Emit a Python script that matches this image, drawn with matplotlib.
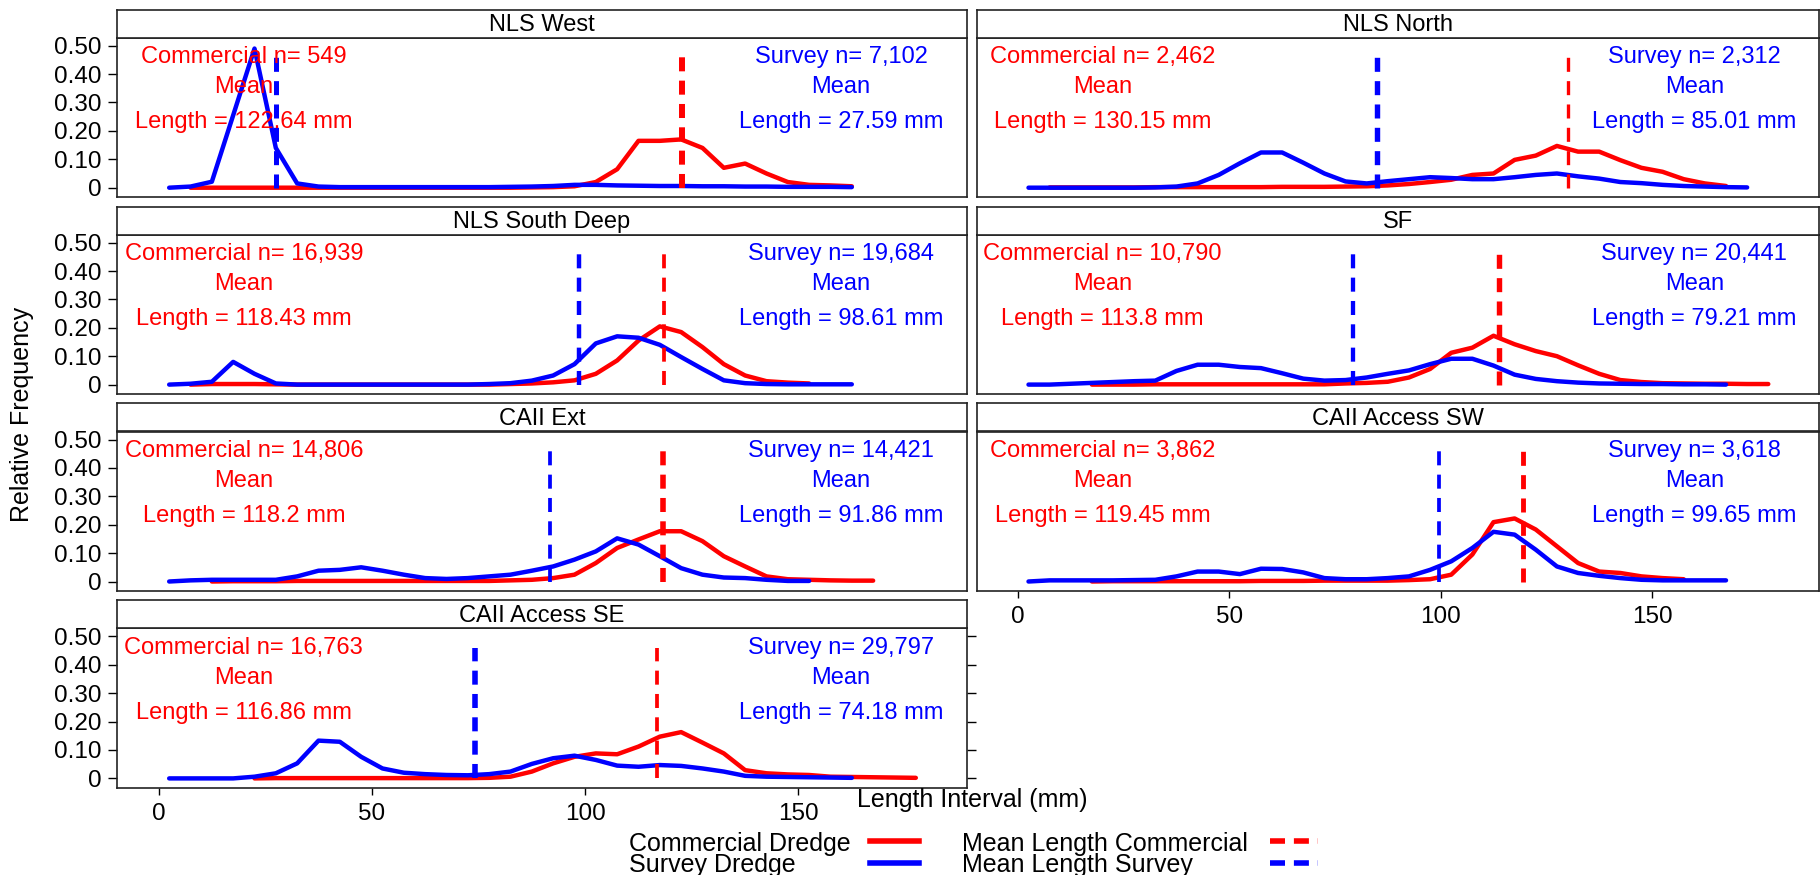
import numpy as np
import matplotlib
matplotlib.use("Agg")
import matplotlib.pyplot as plt
from matplotlib.lines import Line2D

N = None

# ---------------- data ----------------
length_bins = [2.5, 7.5, 12.5, 17.5, 22.5, 27.5, 32.5, 37.5, 42.5, 47.5,
               52.5, 57.5, 62.5, 67.5, 72.5, 77.5, 82.5, 87.5, 92.5, 97.5,
               102.5, 107.5, 112.5, 117.5, 122.5, 127.5, 132.5, 137.5, 142.5, 147.5,
               152.5, 157.5, 162.5, 167.5, 172.5, 177.5]

areas = ["NLS West", "NLS North", "NLS South Deep", "SF",
         "CAII Ext", "CAII Access SW", "CAII Access SE"]
commercial_n = ["549", "2,462", "16,939", "10,790", "14,806", "3,862", "16,763"]
survey_n = ["7,102", "2,312", "19,684", "20,441", "14,421", "3,618", "29,797"]
commercial_mean = [122.64, 130.15, 118.43, 113.8, 118.2, 119.45, 116.86]
survey_mean = [27.59, 85.01, 98.61, 79.21, 91.86, 99.65, 74.18]

nls_west_comm = [N, 0, 0, 0, 0, 0, 0, 0, 0, 0,
                 0, 0, 0, 0, 0, 0, 0, 0.001, 0.002, 0.005,
                 0.02, 0.065, 0.165, 0.165, 0.17, 0.14, 0.07, 0.085, 0.05, 0.02,
                 0.01, 0.008, 0.005, N, N, N]
nls_west_surv = [0, 0.004, 0.021, 0.255, 0.49, 0.14, 0.015, 0.004, 0.002, 0.002,
                 0.002, 0.002, 0.002, 0.002, 0.002, 0.002, 0.003, 0.004, 0.006, 0.01,
                 0.01, 0.008, 0.007, 0.006, 0.006, 0.005, 0.005, 0.004, 0.004, 0.003,
                 0.003, 0.003, 0.002, N, N, N]

nls_north_comm = [N, 0.001, 0.001, 0.001, 0.001, 0.001, 0.002, 0.002, 0.002, 0.002,
                  0.002, 0.002, 0.003, 0.003, 0.003, 0.004, 0.005, 0.008, 0.013, 0.02,
                  0.028, 0.045, 0.05, 0.098, 0.113, 0.147, 0.127, 0.127, 0.097, 0.07,
                  0.056, 0.03, 0.015, 0.006, N, N]
nls_north_surv = [0, 0, 0, 0, 0, 0, 0.001, 0.004, 0.015, 0.045,
                  0.086, 0.124, 0.124, 0.088, 0.05, 0.022, 0.015, 0.023, 0.03, 0.037,
                  0.034, 0.03, 0.03, 0.037, 0.045, 0.05, 0.04, 0.032, 0.02, 0.016,
                  0.01, 0.006, 0.004, 0.002, 0.001, N]

nls_south_deep_comm = [N, 0, 0.002, 0.002, 0.002, 0.001, 0, 0, 0, 0,
                       0, 0, 0, 0, 0, 0, 0.002, 0.004, 0.008, 0.015,
                       0.038, 0.085, 0.155, 0.205, 0.185, 0.132, 0.072, 0.032, 0.012, 0.007,
                       0.004, N, N, N, N, N]
nls_south_deep_surv = [0, 0.003, 0.01, 0.08, 0.038, 0.004, 0, 0, 0, 0,
                       0, 0, 0, 0, 0, 0.002, 0.005, 0.014, 0.032, 0.072,
                       0.145, 0.17, 0.165, 0.14, 0.097, 0.055, 0.015, 0.005, 0.002, 0.001,
                       0.001, 0.001, 0.001, N, N, N]

sf_comm = [N, N, N, 0, 0, 0, 0.001, 0.001, 0.001, 0.001,
           0.001, 0.001, 0.001, 0.001, 0.001, 0.004, 0.006, 0.01, 0.025, 0.055,
           0.112, 0.13, 0.172, 0.142, 0.118, 0.1, 0.068, 0.038, 0.016, 0.009,
           0.005, 0.004, 0.003, 0.003, 0.002, 0.002]
sf_surv = [0, 0, 0.003, 0.006, 0.009, 0.012, 0.014, 0.048, 0.07, 0.07,
           0.062, 0.058, 0.04, 0.021, 0.014, 0.016, 0.025, 0.038, 0.05, 0.072,
           0.091, 0.091, 0.067, 0.035, 0.02, 0.012, 0.007, 0.004, 0.003, 0.002,
           0.002, 0.001, 0.001, 0, N, N]

caii_ext_comm = [N, N, 0, 0.001, 0.001, 0.001, 0.002, 0.002, 0.002, 0.002,
                 0.002, 0.002, 0.002, 0.002, 0.002, 0.002, 0.004, 0.006, 0.012, 0.024,
                 0.065, 0.118, 0.148, 0.177, 0.177, 0.142, 0.089, 0.053, 0.018, 0.008,
                 0.006, 0.004, 0.003, 0.003, N, N]
caii_ext_surv = [0, 0.004, 0.006, 0.006, 0.006, 0.006, 0.018, 0.038, 0.041, 0.05,
                 0.038, 0.024, 0.012, 0.009, 0.012, 0.018, 0.024, 0.038, 0.053, 0.077,
                 0.106, 0.152, 0.13, 0.089, 0.047, 0.024, 0.014, 0.012, 0.006, 0.002,
                 0.002, N, N, N, N, N]

caii_sw_comm = [N, N, N, 0, 0.001, 0.001, 0.001, 0.001, 0.001, 0.001,
                0.001, 0.002, 0.002, 0.002, 0.003, 0.003, 0.003, 0.003, 0.005, 0.008,
                0.024, 0.095, 0.209, 0.222, 0.183, 0.124, 0.065, 0.035, 0.03, 0.018,
                0.012, 0.008, N, N, N, N]
caii_sw_surv = [0, 0.004, 0.004, 0.004, 0.004, 0.005, 0.006, 0.018, 0.035, 0.035,
                0.026, 0.045, 0.044, 0.032, 0.012, 0.008, 0.008, 0.012, 0.018, 0.041,
                0.071, 0.118, 0.175, 0.165, 0.112, 0.053, 0.03, 0.02, 0.012, 0.006,
                0.004, 0.004, 0.004, 0.004, N, N]

caii_se_comm = [N, N, N, N, 0, 0.001, 0.001, 0.001, 0.001, 0.001,
                0.001, 0.001, 0.001, 0.001, 0.001, 0.002, 0.006, 0.024, 0.053, 0.076,
                0.088, 0.085, 0.112, 0.147, 0.163, 0.126, 0.088, 0.029, 0.018, 0.014,
                0.012, 0.006, 0.005, 0.004, 0.003, 0.002]
caii_se_surv = [0, 0, 0, 0, 0.006, 0.018, 0.053, 0.133, 0.129, 0.076,
                0.035, 0.02, 0.015, 0.012, 0.011, 0.015, 0.024, 0.051, 0.071, 0.08,
                0.065, 0.045, 0.041, 0.047, 0.044, 0.035, 0.024, 0.009, 0.006, 0.005,
                0.004, 0.003, 0.002, N, N, N]

commercial_series = [nls_west_comm, nls_north_comm, nls_south_deep_comm, sf_comm,
                     caii_ext_comm, caii_sw_comm, caii_se_comm]
survey_series = [nls_west_surv, nls_north_surv, nls_south_deep_surv, sf_surv,
                 caii_ext_surv, caii_sw_surv, caii_se_surv]

y_ticks = [0, 0.1, 0.2, 0.3, 0.4, 0.5]
y_tick_labels = ["0", "0.10", "0.20", "0.30", "0.40", "0.50"]
x_ticks = [0, 50, 100, 150]
x_tick_labels = ["0", "50", "100", "150"]

# ---------------- style / layout ----------------
RED = "#FF0000"
BLUE = "#0000FF"
FRAME = "#222222"
mean_lw_comm = [4.3, 2.4, 2.7, 3.9, 4.0, 3.5, 2.7]
mean_lw_surv = [3.6, 3.9, 3.2, 3.1, 2.7, 2.7, 4.0]
MEAN_TOP = 0.46
CURVE_LW = 3.2

W, H = 1820, 875
def fx(px):
    return px / W
def fy(py):
    return 1 - py / H

col_px = [(116.7, 967.0), (976.5, 1819.0)]
row_zero_px = [187.7, 384.6, 581.5, 778.4]
PX_PER_UNIT = 284.0
BELOW = 9.5
ABOVE = 150.0
STRIP = 28.0
XLIM = (-9.8, 189.5)
YLIM = (-BELOW / PX_PER_UNIT, ABOVE / PX_PER_UNIT)

plt.rcParams["font.family"] = ["Liberation Sans", "DejaVu Sans"]
fig = plt.figure(figsize=(18.2, 8.75), dpi=100)


def dashed(lw):
    # ~14 px dash, ~9.3 px gap regardless of width
    return (0, (10.1 / lw, 6.7 / lw))


for i, name in enumerate(areas):
    row, col = divmod(i, 2)
    x0, x1 = col_px[col]
    Z = row_zero_px[row]
    ax = fig.add_axes([fx(x0), fy(Z + BELOW), (x1 - x0) / W, (BELOW + ABOVE) / H])
    ax.set_xlim(*XLIM)
    ax.set_ylim(*YLIM)

    xb = np.array(length_bins, dtype=float)
    yc = np.array(commercial_series[i], dtype=float)
    ys = np.array(survey_series[i], dtype=float)
    ax.plot(xb, yc, color=RED, lw=CURVE_LW, solid_capstyle="round",
            solid_joinstyle="round", zorder=2)
    ax.plot(xb, ys, color=BLUE, lw=CURVE_LW, solid_capstyle="round",
            solid_joinstyle="round", zorder=3)

    cm, sm = commercial_mean[i], survey_mean[i]
    lc, ls_ = mean_lw_comm[i], mean_lw_surv[i]
    ax.plot([cm, cm], [0, MEAN_TOP], color=RED, lw=lc, linestyle=dashed(lc),
            dash_capstyle="butt", zorder=4)
    ax.plot([sm, sm], [0, MEAN_TOP], color=BLUE, lw=ls_, linestyle=dashed(ls_),
            dash_capstyle="butt", zorder=4)

    fs = 17
    ax.text(20, 0.438, f"Commercial n= {commercial_n[i]}", color=RED, ha="center",
            va="baseline", fontsize=fs, zorder=5)
    ax.text(20, 0.333, "Mean", color=RED, ha="center", va="baseline", fontsize=fs, zorder=5)
    ax.text(20, 0.209, f"Length = {cm:g} mm", color=RED, ha="center", va="baseline",
            fontsize=fs, zorder=5)
    ax.text(160, 0.438, f"Survey n= {survey_n[i]}", color=BLUE, ha="center",
            va="baseline", fontsize=fs, zorder=5)
    ax.text(160, 0.333, "Mean", color=BLUE, ha="center", va="baseline", fontsize=fs, zorder=5)
    ax.text(160, 0.209, f"Length = {sm:g} mm", color=BLUE, ha="center", va="baseline",
            fontsize=fs, zorder=5)

    for sp in ax.spines.values():
        sp.set_color(FRAME)
        sp.set_linewidth(1.2)

    # y axis
    ax.set_yticks(y_ticks)
    if col == 0:
        ax.set_yticklabels(y_tick_labels)
        ax.tick_params(axis="y", direction="out", length=6.5, width=1.0, pad=4.5,
                       labelsize=17.5, colors="black")
        if i == 6:
            ax.tick_params(axis="y", right=True, labelright=False)
    else:
        ax.tick_params(axis="y", left=False, labelleft=False)

    # x axis
    ax.set_xticks(x_ticks)
    if i in (5, 6):
        ax.set_xticklabels(x_tick_labels)
        ax.tick_params(axis="x", direction="out", length=5, width=1.0, pad=6,
                       labelsize=17.5, colors="black")
    else:
        ax.tick_params(axis="x", bottom=False, labelbottom=False)

    # strip
    sax = fig.add_axes([fx(x0), fy(Z - ABOVE), (x1 - x0) / W, STRIP / H])
    sax.set_xticks([])
    sax.set_yticks([])
    for sp in sax.spines.values():
        sp.set_color(FRAME)
        sp.set_linewidth(1.2)
    sax.text(0.5, 0.45, name, ha="center", va="center", fontsize=17,
             transform=sax.transAxes)

# axis titles
fig.text(fx(22), fy(414.5), "Relative Frequency", rotation=90, ha="center",
         va="center", fontsize=18)
fig.text(fx(972), fy(799.5), "Length Interval (mm)", ha="center", va="center",
         fontsize=18)

# legend (manual, matching reference layout)
leg_fs = 18
fig.text(fx(629), fy(851), "Commercial Dredge", fontsize=leg_fs, ha="left", va="baseline")
fig.text(fx(629), fy(872), "Survey Dredge", fontsize=leg_fs, ha="left", va="baseline")
fig.text(fx(962), fy(851), "Mean Length Commercial", fontsize=leg_fs, ha="left", va="baseline")
fig.text(fx(962), fy(872), "Mean Length Survey", fontsize=leg_fs, ha="left", va="baseline")
fig.add_artist(Line2D([fx(870), fx(919)], [fy(841), fy(841)], color=RED, lw=4))
fig.add_artist(Line2D([fx(870), fx(919)], [fy(863), fy(863)], color=BLUE, lw=4))
fig.add_artist(Line2D([fx(1270), fx(1318)], [fy(841), fy(841)], color=RED, lw=4,
                      linestyle=(0, (2.7, 1.6)), dash_capstyle="butt"))
fig.add_artist(Line2D([fx(1270), fx(1318)], [fy(863), fy(863)], color=BLUE, lw=4,
                      linestyle=(0, (2.7, 1.6)), dash_capstyle="butt"))

fig.savefig("out.png", dpi=100)
